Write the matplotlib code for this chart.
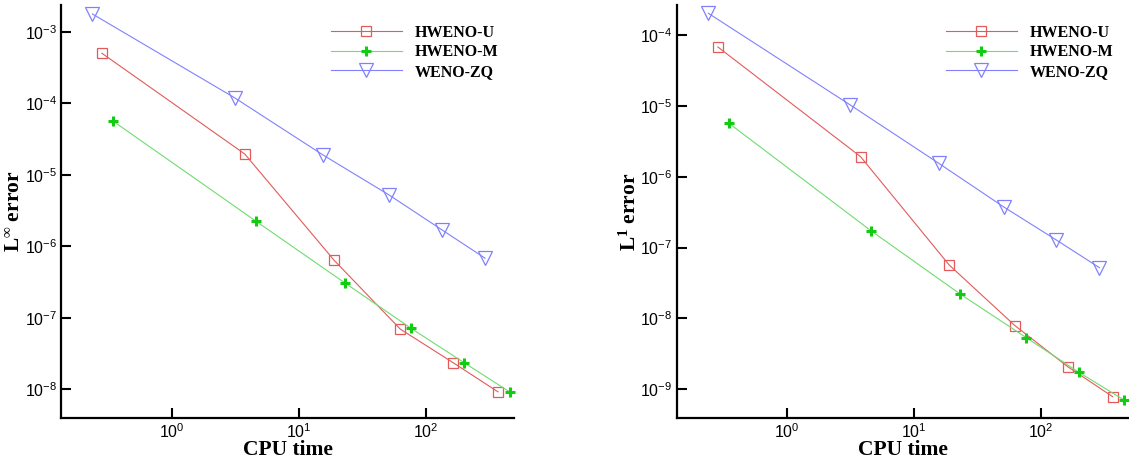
import matplotlib
matplotlib.use("Agg")
import matplotlib.pyplot as plt
from matplotlib.ticker import FixedLocator, FuncFormatter, NullLocator
import numpy as np

# ---- data ----
series_names = ["HWENO-U", "HWENO-M", "WENO-ZQ"]

# Left panel: L-infinity error
linf_u_time = [0.283, 3.76, 19.0, 62.8, 164, 369]
linf_u_err = [4.99e-4, 1.95e-5, 6.35e-7, 6.95e-8, 2.35e-8, 9.2e-9]
linf_m_time = [0.345, 4.59, 23.3, 76.6, 200, 455]
linf_m_err = [5.64e-5, 2.25e-6, 3.03e-7, 7.1e-8, 2.35e-8, 9.2e-9]
linf_z_time = [0.238, 3.13, 15.5, 51.4, 134, 292]
linf_z_err = [1.77e-3, 1.19e-4, 1.89e-5, 5.2e-6, 1.69e-6, 6.8e-7]

# Right panel: L1 error
l1_u_time = [0.285, 3.8, 19.0, 62.8, 164, 370]
l1_u_err = [6.77e-5, 1.92e-6, 5.68e-8, 7.9e-9, 2.08e-9, 7.87e-10]
l1_m_time = [0.348, 4.63, 23.2, 77.2, 200, 458]
l1_m_err = [5.68e-6, 1.71e-7, 2.21e-8, 5.35e-9, 1.74e-9, 7.0e-10]
l1_z_time = [0.240, 3.15, 15.7, 51.2, 133, 291]
l1_z_err = [2.02e-4, 1.03e-5, 1.55e-6, 3.74e-7, 1.28e-7, 5.2e-8]

x_ticks = [1e0, 1e1, 1e2]
linf_yticks = [1e-3, 1e-4, 1e-5, 1e-6, 1e-7, 1e-8]
l1_yticks = [1e-4, 1e-5, 1e-6, 1e-7, 1e-8, 1e-9]

xlabel = "CPU time"
ylabels = [r"$\mathbf{L^{\infty}\ error}$", r"$\mathbf{L^{1}\ error}$"]

# ---- style ----
plt.rcParams["mathtext.fontset"] = "custom"
plt.rcParams["mathtext.sf"] = "Liberation Sans"
plt.rcParams["mathtext.rm"] = "Liberation Serif"
plt.rcParams["mathtext.bf"] = "Liberation Serif:bold"
plt.rcParams["mathtext.it"] = "Liberation Serif:italic"
plt.rcParams["axes.unicode_minus"] = False

red = "#e35a5a"
green_line = "#6fdc6f"
green_mark = "#11cc11"
blue = "#8080ff"

fig = plt.figure(figsize=(11.29, 4.62), dpi=100)
W, H = 1129, 462
axL = fig.add_axes([61 / W, 1 - 418.3 / H, (514 - 61) / W, (418.3 - 5) / H])
axR = fig.add_axes([676.7 / W, 1 - 418.3 / H, (1128.5 - 676.7) / W, (418.3 - 5) / H])

fmt = FuncFormatter(lambda v, p: r"$\mathsf{10^{%d}}$" % int(round(np.log10(v))))


def draw(ax, u, m, z, yticks, ylim, ylab):
    ax.plot(u[0], u[1], color=red, lw=0.8, marker="s", ms=7.5, mfc="none",
            mec=red, mew=0.9, label=series_names[0], clip_on=False)
    ax.plot(m[0], m[1], color=green_line, lw=0.8, marker="+", ms=7,
            mec=green_mark, mew=2.2, label=series_names[1], clip_on=False)
    ax.plot(z[0], z[1], color=blue, lw=0.8, marker="v", ms=9.5, mfc="none",
            mec=blue, mew=0.9, label=series_names[2], clip_on=False)
    ax.set_xscale("log")
    ax.set_yscale("log")
    ax.set_xlim(10 ** -0.87, 10 ** 2.693)
    ax.set_ylim(*ylim)
    ax.xaxis.set_major_locator(FixedLocator(x_ticks))
    ax.yaxis.set_major_locator(FixedLocator(yticks))
    ax.xaxis.set_minor_locator(NullLocator())
    ax.yaxis.set_minor_locator(NullLocator())
    ax.xaxis.set_major_formatter(fmt)
    ax.yaxis.set_major_formatter(fmt)
    ax.tick_params(which="major", direction="in", length=7.5, width=1.5,
                   labelsize=11.5, pad=3, colors="black")
    for s in ["top", "right"]:
        ax.spines[s].set_visible(False)
    for s in ["left", "bottom"]:
        ax.spines[s].set_linewidth(1.6)
    ax.set_xlabel(xlabel, fontsize=15.5, fontweight="bold",
                  family="Liberation Serif")
    ax.xaxis.set_label_coords(0.5, -0.052)
    ax.set_ylabel(ylab, fontsize=15.5)
    ax.yaxis.set_label_coords(-0.082, 0.5)
    ax.legend(loc="upper left", bbox_to_anchor=(0.595, 0.952),
              frameon=False, borderpad=0, borderaxespad=0,
              handlelength=4.5, handletextpad=0.8, labelspacing=0.22,
              numpoints=1,
              prop={"family": "Liberation Serif", "weight": "bold",
                    "size": 11.5})


draw(axL, (linf_u_time, linf_u_err), (linf_m_time, linf_m_err),
     (linf_z_time, linf_z_err), linf_yticks, (10 ** -8.406, 10 ** -2.627),
     ylabels[0])
draw(axR, (l1_u_time, l1_u_err), (l1_m_time, l1_m_err),
     (l1_z_time, l1_z_err), l1_yticks, (10 ** -9.409, 10 ** -3.577),
     ylabels[1])

fig.savefig("out.png", dpi=100)
